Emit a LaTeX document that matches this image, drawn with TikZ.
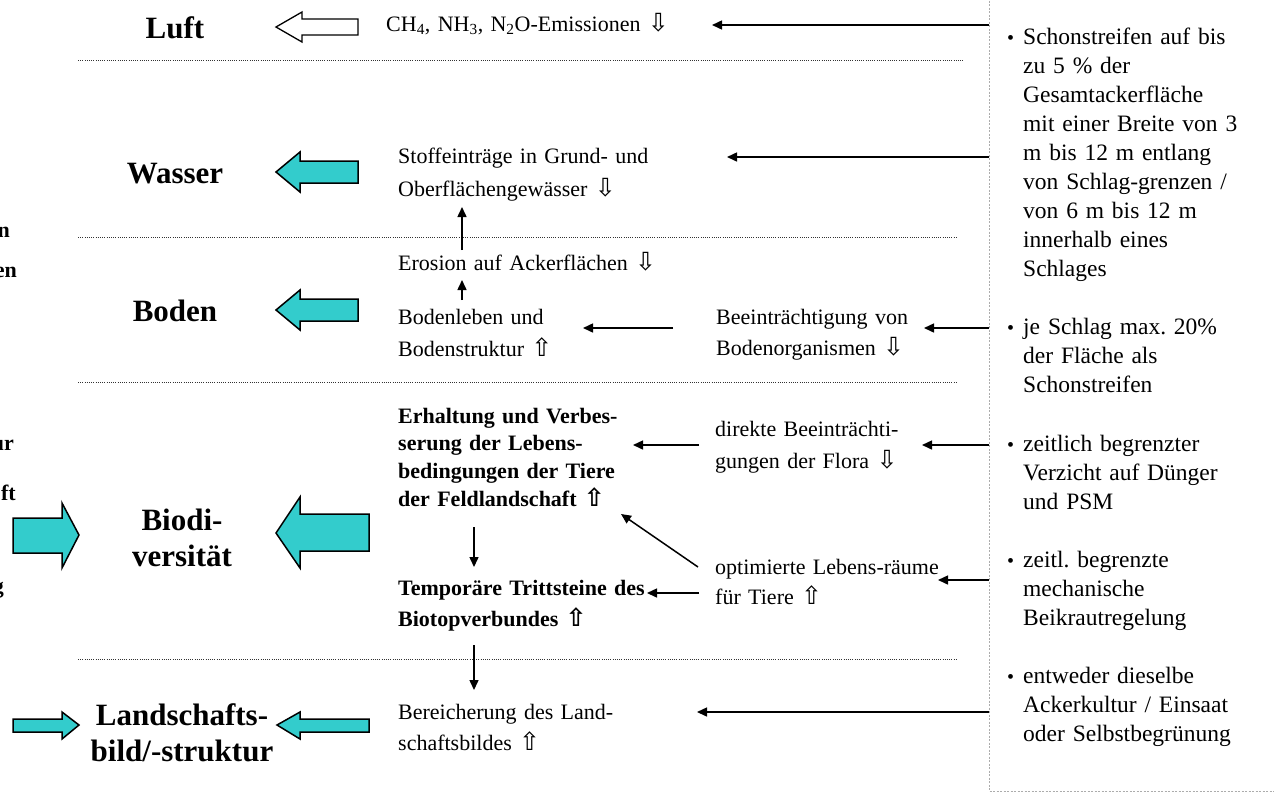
\documentclass[tikz,border=0pt]{standalone}
\usepackage{fontspec}
\setmainfont{Liberation Serif}
\newfontfamily\symfont{DejaVu Sans}
\usetikzlibrary{arrows.meta}
\frenchspacing
\definecolor{blockcyan}{RGB}{51,204,204}
\newcommand\pfeilab{{\symfont\fontsize{25}{25}\selectfont\char"21E9}}
\newcommand\pfeilauf{{\symfont\fontsize{25}{25}\selectfont\char"21E7}}
\tikzset{
  area/.style={anchor=base, inner sep=0pt, text width=260pt, align=center,
    font=\fontsize{31}{36}\bfseries\selectfont},
  cut/.style={anchor=base east, inner sep=0pt, font=\fontsize{22}{26}\bfseries\selectfont},
  effect/.style={anchor=base west, inner sep=0pt, text width=360pt, align=left},
  plain/.style={effect, font=\fontsize{22}{#1}\selectfont},
  plainb/.style={effect, font=\fontsize{22}{#1}\bfseries\selectfont},
  measure/.style={anchor=base west, inner sep=0pt, text width=250pt, align=left,
    font=\fontsize{23.5}{29.08}\selectfont},
  dot/.style={anchor=base west, inner sep=0pt, font=\fontsize{20}{29.08}\selectfont},
  conn/.style={line width=1.5pt, -{Triangle[length=10pt,width=9pt]}},
  sep/.style={line width=0.9pt, black!80, dash pattern=on 1pt off 1.2pt},
  block/.style={draw=black, line width=1.5pt, fill=blockcyan, line join=miter},
  hollow/.style={draw=black, line width=1.3pt, fill=white, line join=miter},
}
\begin{document}
\begin{tikzpicture}[x=1pt,y=-1pt]
\useasboundingbox (0,0) rectangle (1274,793);
\clip (0,0) rectangle (1274,793);

% separators between the layers
\draw[sep] (78,60) -- (963,60);
\draw[sep] (78,237) -- (958,237);
\draw[sep] (78,382) -- (958,382);
\draw[sep] (78,659) -- (958,659);

% box holding the measures
\draw[gray!65, line width=0.8pt, dash pattern=on 2pt off 1.5pt] (989,-10) rectangle (1290,791);

% layer names
\node[area] (luft) at (175,38) {Luft};
\node[area] (wasser) at (175,183) {Wasser};
\node[area] (boden) at (175,321) {Boden};
\node[area] (biodiv) at (182,530) {Biodi-\\versität};
\node[area] (land) at (182,725) {Landschafts-\\bild/-struktur};

% word endings reaching in from the left edge
\node[cut] (c1) at (10,237) {n};
\node[cut] (c2) at (17,277) {en};
\node[cut] (c3) at (14,450) {ur};
\node[cut] (c4) at (16,500) {ft};
\node[cut] (c5) at (4,593) {g};

% block arrows
\draw[hollow] (276,27) -- (302,12) -- (302,19) -- (358,19) -- (358,35) -- (302,35) -- (302,42) -- cycle;
\draw[block] (276,172) -- (300,152) -- (300,161) -- (358,161) -- (358,183) -- (300,183) -- (300,192) -- cycle;
\draw[block] (276,310) -- (300,290) -- (300,299) -- (358,299) -- (358,321) -- (300,321) -- (300,330) -- cycle;
\draw[block] (276,533) -- (300,497) -- (300,514) -- (369,514) -- (369,551) -- (300,551) -- (300,568) -- cycle;
\draw[block] (79,535) -- (62,503) -- (62,518) -- (13,518) -- (13,553) -- (62,553) -- (62,568) -- cycle;
\draw[block] (277,725) -- (300,712) -- (300,719) -- (369,719) -- (369,732) -- (300,732) -- (300,739) -- cycle;
\draw[block] (79,725) -- (62,712) -- (62,719) -- (13,719) -- (13,732) -- (62,732) -- (62,739) -- cycle;

% effects
\node[plain=26] (emis) at (386,31) {CH\textsubscript{4}, NH\textsubscript{3}, N\textsubscript{2}O-Emissionen \pfeilab};
\node[plain=33] (stoff) at (398,163) {Stoffeinträge in Grund- und\\Oberflächengewässer \pfeilab};
\node[plain=26] (eros) at (398,270) {Erosion auf Ackerflächen \pfeilab};
\node[plain=32] (bleben) at (398,324) {Bodenleben und\\Bodenstruktur \pfeilauf};
\node[plain=31] (beein) at (716,324) {Beeinträchtigung von\\Bodenorganismen \pfeilab};
\node[plainb=27.7] (erhalt) at (398,423) {Erhaltung und Verbes-\\serung der Lebens-\\bedingungen der Tiere\\der Feldlandschaft \pfeilauf};
\node[plain=32] (flora) at (715,436) {direkte Beeinträchti-\\gungen der Flora \pfeilab};
\node[plain=30] (raum) at (715,574) {optimierte Lebens-räume\\für Tiere \pfeilauf};
\node[plainb=31] (tritt) at (398,595) {Temporäre Trittsteine des\\Biotopverbundes \pfeilauf};
\node[plain=31] (berei) at (398,719) {Bereicherung des Land-\\schaftsbildes \pfeilauf};

% measures
\node[dot] (b1) at (1007,44) {•};
\node[measure] (m1) at (1023,44) {Schonstreifen auf bis\\zu 5 \% der\\Gesamtackerfläche\\mit einer Breite von 3\\m bis 12 m entlang\\von Schlag-grenzen /\\von 6 m bis 12 m\\innerhalb eines\\Schlages};
\node[dot] (b2) at (1007,334.8) {•};
\node[measure] (m2) at (1023,334.8) {je Schlag max. 20\%\\der Fläche als\\Schonstreifen};
\node[dot] (b3) at (1007,451.1) {•};
\node[measure] (m3) at (1023,451.1) {zeitlich begrenzter\\Verzicht auf Dünger\\und PSM};
\node[dot] (b4) at (1007,567.4) {•};
\node[measure] (m4) at (1023,567.4) {zeitl. begrenzte\\mechanische\\Beikrautregelung};
\node[dot] (b5) at (1007,683.8) {•};
\node[measure] (m5) at (1023,683.8) {entweder dieselbe\\Ackerkultur / Einsaat\\oder Selbstbegrünung};

% connector ends
\coordinate (s1) at (989,25);   \coordinate (e1) at (712,25);
\coordinate (s2) at (989,157);  \coordinate (e2) at (727,157);
\coordinate (s3) at (989,328);  \coordinate (e3) at (924,328);
\coordinate (s4) at (673,328);  \coordinate (e4) at (583,328);
\coordinate (s5) at (989,445);  \coordinate (e5) at (922,445);
\coordinate (s6) at (699,445);  \coordinate (e6) at (633,445);
\coordinate (s7) at (989,580);  \coordinate (e7) at (938,580);
\coordinate (s8) at (698,567);  \coordinate (e8) at (621,514);
\coordinate (s9) at (699,593);  \coordinate (e9) at (647,593);
\coordinate (s10) at (989,712); \coordinate (e10) at (697,712);
\coordinate (s11) at (462,250); \coordinate (e11) at (462,207);
\coordinate (s12) at (462,300); \coordinate (e12) at (462,280);
\coordinate (s13) at (474,527); \coordinate (e13) at (474,567);
\coordinate (s14) at (474,645); \coordinate (e14) at (474,690);

\foreach \i in {1,...,14} \draw[conn] (s\i) -- (e\i);
\end{tikzpicture}
\end{document}
